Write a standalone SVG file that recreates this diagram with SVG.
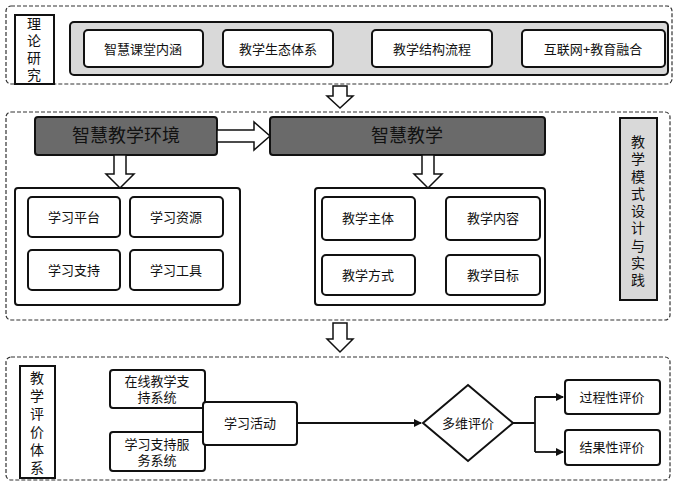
<svg xmlns="http://www.w3.org/2000/svg" width="676" height="491" viewBox="0 0 676 491">
<style>
.d{fill:none;stroke:#333;stroke-width:1.2;stroke-dasharray:4 2}
.b{fill:#fff;stroke:#111;stroke-width:2}
.g{fill:#d9d9d9;stroke:#111;stroke-width:2}
.k{fill:#6a6a6a;stroke:#111;stroke-width:2}
.h{fill:#fff;stroke:#111;stroke-width:1.5}
text{font-family:"Liberation Sans","Noto Sans CJK SC",sans-serif;font-size:13px;fill:#111;text-anchor:middle;dominant-baseline:central}
.big{font-size:18px}
.v{font-size:14px}
</style>
<defs><marker id="a" markerWidth="8" markerHeight="8" refX="7" refY="4" orient="auto" markerUnits="userSpaceOnUse"><path d="M0,0L8,4L0,8z" fill="#111"/></marker></defs>
<g id="sec1">
<rect class="d" x="6" y="6" width="666" height="78" rx="5"/>
<rect class="b" x="15" y="15" width="39" height="69"/>
<text class="v" x="34" y="24">理</text><text class="v" x="34" y="41">论</text><text class="v" x="34" y="58">研</text><text class="v" x="34" y="75">究</text>
<rect class="g" x="70" y="22" width="598" height="53" rx="4"/>
</g>
<g id="n1"><rect class="b" x="84" y="30" width="119" height="37" rx="4"/><text x="143" y="49">智慧课堂内涵</text></g>
<g id="n2"><rect class="b" x="223" y="30" width="110" height="37" rx="4"/><text x="278" y="49">教学生态体系</text></g>
<g id="n3"><rect class="b" x="372" y="30" width="120" height="37" rx="4"/><text x="432" y="49">教学结构流程</text></g>
<g id="n4"><rect class="b" x="522" y="30" width="143" height="37" rx="4"/><text x="593" y="49">互联网+教育融合</text></g>
<g id="sec2">
<rect class="d" x="6" y="112" width="664" height="208" rx="5"/>
<rect class="g" x="620" y="118" width="37" height="182"/>
<text class="v" x="638" y="142">教</text><text class="v" x="638" y="159">学</text><text class="v" x="638" y="177">模</text><text class="v" x="638" y="194">式</text><text class="v" x="638" y="211">设</text><text class="v" x="638" y="228">计</text><text class="v" x="638" y="246">与</text><text class="v" x="638" y="263">实</text><text class="v" x="638" y="280">践</text>
</g>
<g id="env"><rect class="k" x="35" y="117" width="182" height="38" rx="3"/><text class="big" x="126" y="136">智慧教学环境</text></g>
<g id="teach"><rect class="k" x="270" y="117" width="275" height="38" rx="3"/><text class="big" x="407" y="136">智慧教学</text></g>
<g id="c1"><rect class="b" x="15" y="188" width="225" height="117" rx="3"/></g>
<g id="c2"><rect class="b" x="315" y="188" width="230" height="117" rx="3"/></g>
<g id="e1"><rect class="b" x="28" y="197" width="92" height="40" rx="4"/><text x="74" y="217">学习平台</text></g>
<g id="e2"><rect class="b" x="130" y="197" width="93" height="40" rx="4"/><text x="176" y="217">学习资源</text></g>
<g id="e3"><rect class="b" x="28" y="250" width="92" height="40" rx="4"/><text x="74" y="270">学习支持</text></g>
<g id="e4"><rect class="b" x="130" y="250" width="93" height="40" rx="4"/><text x="176" y="270">学习工具</text></g>
<g id="t1"><rect class="b" x="322" y="197" width="93" height="43" rx="4"/><text x="368" y="218">教学主体</text></g>
<g id="t2"><rect class="b" x="446" y="197" width="94" height="43" rx="4"/><text x="493" y="218">教学内容</text></g>
<g id="t3"><rect class="b" x="322" y="255" width="93" height="40" rx="4"/><text x="368" y="275">教学方式</text></g>
<g id="t4"><rect class="b" x="446" y="255" width="94" height="40" rx="4"/><text x="493" y="275">教学目标</text></g>
<g id="sec3">
<rect class="d" x="6" y="357" width="664" height="123" rx="5"/>
<rect class="b" x="20" y="366" width="35" height="112"/>
<text class="v" x="37" y="378">教</text><text class="v" x="37" y="396">学</text><text class="v" x="37" y="414">评</text><text class="v" x="37" y="432">价</text><text class="v" x="37" y="450">体</text><text class="v" x="37" y="468">系</text>
</g>
<g id="s1"><rect class="b" x="110" y="370" width="95" height="38" rx="3"/><text x="157" y="381">在线教学支</text><text x="157" y="397">持系统</text></g>
<g id="s2"><rect class="b" x="110" y="432" width="95" height="39" rx="3"/><text x="157" y="444">学习支持服</text><text x="157" y="460">务系统</text></g>
<g id="act"><rect class="b" x="203" y="402" width="94" height="43" rx="3"/><text x="250" y="423">学习活动</text></g>
<g id="dia"><path class="b" d="M468,385L513,423L468,461L423,423z"/><text x="468" y="423">多维评价</text></g>
<g id="r1"><rect class="b" x="565" y="380" width="95" height="34" rx="3"/><text x="612" y="397">过程性评价</text></g>
<g id="r2"><rect class="b" x="565" y="430" width="95" height="35" rx="3"/><text x="612" y="447">结果性评价</text></g>
<g id="connectors" fill="none" stroke="#111" stroke-width="1.8">
<path class="h" d="M333,86h14v10h6l-13,12l-13,-12h6z"/>
<path class="h" d="M333,323h14v16h6l-13,13l-13,-13h6z"/>
<path class="h" d="M217,130h37v-8l16,14l-16,14v-8h-37z"/>
<path class="h" d="M114,155h12v19h8l-14,14l-14,-14h8z"/>
<path class="h" d="M422,155h12v19h8l-14,14l-14,-14h8z"/>
<path d="M297,423H421" marker-end="url(#a)"/>
<path d="M513,423H535M535,397V452M535,397H563" marker-end="url(#a)"/>
<path d="M535,452H563" marker-end="url(#a)"/>
</g>
</svg>
